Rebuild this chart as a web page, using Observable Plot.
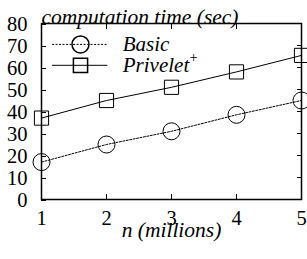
<!DOCTYPE html>
<html><head>
<meta charset="utf-8">
<script src="https://cdn.jsdelivr.net/npm/d3@7"></script>
<script src="https://cdn.jsdelivr.net/npm/@observablehq/plot@0.6"></script>
<style>
body{margin:0;background:#fff}
</style>
</head><body><div id="chart"></div>
<script>
const sizes = [1, 2, 3, 4, 5];
const basic = [17, 25, 31, 38.5, 45];
const privelet = [37, 45, 51, 58, 65.5];
const xTicks = [1, 2, 3, 4, 5];
const yTicks = [0, 10, 20, 30, 40, 50, 60, 70, 80];
const seriesNames = ["Basic", "Privelet"];
const titleText = "computation time (sec)";
const xLabel = "n (millions)";

const basicData = sizes.map((n, i) => ({n, v: basic[i]}));
const priveletData = sizes.map((n, i) => ({n, v: privelet[i]}));

// legend placement (data units inside the frame)
const legX1 = 1.17, legX2 = 2.02, legXm = 1.6, legXt = 2.25;
const legY = [70.5, 61];

const font = "Liberation Serif";
const T = {fontFamily: font, fill: "black"};
const chart = Plot.plot({
  width: 307, height: 259,
  marginLeft: 41, marginRight: 6, marginTop: 23, marginBottom: 60,
  style: {fontFamily: font, fontSize: "20px", color: "black", background: "white"},
  x: {domain: [1, 5]},
  y: {domain: [0, 80]},
  marks: [
    Plot.axisY(yTicks, {anchor: "left", tickSize: -5, tickPadding: 19, fontSize: 20.5, dy: 1, label: null, fontFamily: font}),
    Plot.axisY(yTicks, {anchor: "right", tickSize: -5, tickFormat: () => "", label: null}),
    Plot.axisX(xTicks, {anchor: "bottom", tickSize: -5, tickPadding: 16, fontSize: 20.5, label: null, fontFamily: font}),
    Plot.axisX(xTicks, {anchor: "top", tickSize: -5, tickFormat: () => "", label: null}),
    Plot.frame({stroke: "black", strokeWidth: 1.5}),
    Plot.line(basicData, {x: "n", y: "v", stroke: "black", strokeWidth: 1, strokeDasharray: "2,1.5"}),
    Plot.line(priveletData, {x: "n", y: "v", stroke: "black", strokeWidth: 1}),
    Plot.dot(basicData, {x: "n", y: "v", r: 8.5, symbol: "circle", stroke: "black", strokeWidth: 1, fill: "none"}),
    Plot.dot(priveletData, {x: "n", y: "v", r: 8, symbol: "square", stroke: "black", strokeWidth: 1, fill: "none"}),
    // legend
    Plot.ruleY([legY[0]], {x1: legX1, x2: legX2, stroke: "black", strokeWidth: 1, strokeDasharray: "2,1.5"}),
    Plot.ruleY([legY[1]], {x1: legX1, x2: legX2, stroke: "black", strokeWidth: 1}),
    Plot.dot([legY[0]], {x: legXm, y: d => d, r: 8.5, symbol: "circle", stroke: "black", fill: "none"}),
    Plot.dot([legY[1]], {x: legXm, y: d => d, r: 8, symbol: "square", stroke: "black", fill: "none"}),
    Plot.text(seriesNames, {...T, x: legXt, y: (d, i) => legY[i], text: d => d, textAnchor: "start", fontStyle: "italic", fontSize: 21}),
    Plot.text(["+"], {...T, x: legXt, y: legY[1], text: d => d, dx: 66, dy: -8, textAnchor: "start", fontStyle: "italic", fontSize: 14}),
    // title and x label
    Plot.text([titleText], {...T, frameAnchor: "top-left", dy: -15, text: d => d, textAnchor: "start", fontStyle: "italic", fontSize: 21.5}),
    Plot.text([xLabel], {...T, frameAnchor: "bottom", dy: 37, text: d => d, fontStyle: "italic", fontSize: 21.5})
  ]
});
document.getElementById("chart").appendChild(chart);
</script>
</body></html>
